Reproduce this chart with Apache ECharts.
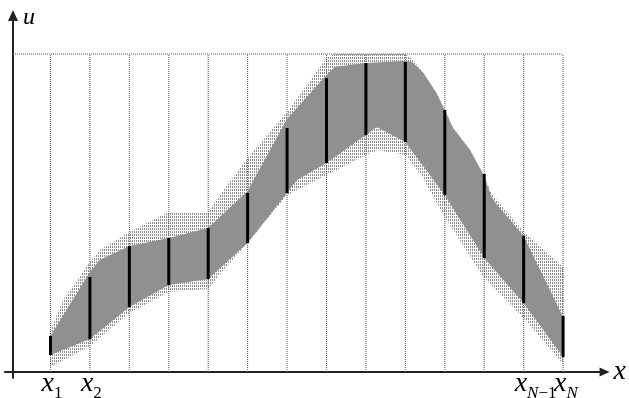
<!DOCTYPE html>
<html><head><meta charset="utf-8">
<script src="https://cdn.jsdelivr.net/npm/echarts@6/dist/echarts.min.js"></script>
<style>html,body{margin:0;padding:0;background:#fff}#c{width:629px;height:398px}</style>
</head><body><div id="c"></div>
<script>
// ---- data (x = node index, u = value) ----
const nodes = [1,2,3,4,5,6,7,8,9,10,11,12,13,14];
const segLow  = [1.7,3.3,6.5,8.7,9.3,12.9,17.9,20.9,23.7,23.0,17.7,11.4,6.9,1.5];
const segHigh = [3.6,9.5,12.6,13.4,14.4,17.9,24.4,29.4,30.9,31.0,26.2,19.8,13.6,5.6];

const grayUpperX = [1,2,2.25,3,4,5,6,7,8,8.21,9,10,10.17,10.46,10.79,11,11.21,11.64,11.97,12.19,12.27,13,14];
const grayUpperU = [3.6,10.0,11.2,12.6,13.4,14.4,18.1,25.3,29.7,30.5,30.9,31.1,31.0,29.9,27.9,26.2,24.4,22.2,19.8,17.5,17.0,13.6,5.5];
const grayLowerX = [1,2,3,4,5,6,7,7.25,8,9,9.27,10,11,12,13,14];
const grayLowerU = [1.7,3.3,6.5,8.7,9.3,12.9,17.9,19.2,20.9,23.7,24.5,23.0,17.7,11.4,6.9,1.5];

const outerUpperX = [1,1.32,2,2.25,3,4,5,5.2,6,7,8,8.2,10,10.2,10.46,10.79,11,11.21,11.64,11.97,12.19,13,14];
const outerUpperU = [4.2,7.2,11.0,12.2,14.0,16.0,16.0,17.2,21.4,26.0,31.4,31.8,31.8,31.2,29.9,27.9,26.2,24.4,22.2,19.8,17.8,14.0,10.5];
const outerLowerX = [1,2,3,4,5,5.3,6,7,8,9,9.3,10,10.4,11,12,13,14];
const outerLowerU = [0.5,2.6,5.9,8.0,8.3,9.8,12.9,17.7,19.7,21.7,22.2,21.7,19.7,15.5,9.4,5.4,0.8];

const uTop = 31.8;          // dotted upper bound line
const uAxisAtX = 0.05;      // where the u-axis crosses
const tickLabelX = [1, 2, 13, 14];
const tickLabelSub = ['{s|1}', '{s|2}', '{si|N}{s|\u22121}', '{si|N}'];

// ---- stipple pattern ----
const pat = document.createElement('canvas');
pat.width = 2; pat.height = 3;
const pctx = pat.getContext('2d');
pctx.fillStyle = '#8c8c8c';
pctx.fillRect(0, 0, 1, 2);

function polyPoints(api, ux, uu, lx, lu) {
  const pts = [];
  for (let i = 0; i < ux.length; i++) pts.push(api.coord([ux[i], uu[i]]));
  for (let i = lx.length - 1; i >= 0; i--) pts.push(api.coord([lx[i], lu[i]]));
  return pts;
}

const serif = '"Liberation Serif", "Times New Roman", serif';
const chart = echarts.init(document.getElementById('c'), null, {renderer: 'canvas'});
chart.setOption({
  animation: false,
  backgroundColor: '#fff',
  grid: {left: 5, right: 24, top: 15.5, bottom: 20, containLabel: false},
  xAxis: {
    type: 'value', min: -0.1531, max: 15.0522,
    axisLine: {show: true, onZero: true, symbol: ['none', 'triangle'], symbolSize: [9, 10],
      lineStyle: {color: '#222', width: 2}},
    axisTick: {show: false}, axisLabel: {show: false}, splitLine: {show: false},
    name: 'x', nameLocation: 'end', nameGap: 9,
    nameTextStyle: {fontFamily: serif, fontStyle: 'italic', fontSize: 28, color: '#000', align: 'left', verticalAlign: 'middle'}
  },
  yAxis: {
    type: 'value', min: -0.6, max: 35.65, offset: -8,
    axisLine: {show: true, onZero: false, symbol: ['none', 'triangle'], symbolSize: [10, 11],
      lineStyle: {color: '#222', width: 2}},
    axisTick: {show: false}, axisLabel: {show: false}, splitLine: {show: false},
    name: 'u', nameLocation: 'end', nameGap: -2,
    nameTextStyle: {fontFamily: serif, fontStyle: 'italic', fontSize: 24, color: '#000', align: 'left', verticalAlign: 'middle', padding: [0, 0, 0, 10]}
  },
  series: [
    { type: 'custom', name: 'outer', silent: true, z: 1,
      data: [[outerUpperX[0], outerUpperU[0]]],
      renderItem: function (params, api) {
        return {type: 'polygon', shape: {points: polyPoints(api, outerUpperX, outerUpperU, outerLowerX, outerLowerU)},
          style: {fill: {type: 'pattern', image: pat, repeat: 'repeat'}, stroke: null}};
      }
    },
    { type: 'custom', name: 'grid', silent: true, z: 2,
      data: nodes.map(function (x) { return [x, uTop]; }),
      renderItem: function (params, api) {
        const x = api.value(0);
        const a = api.coord([x, 0]), b = api.coord([x, api.value(1)]);
        const children = [{type: 'line', shape: {x1: a[0], y1: a[1], x2: b[0], y2: b[1]},
          style: {stroke: '#555', lineWidth: 1, lineDash: [1, 1]}}];
        if (params.dataIndex === nodes.length - 1) {
          const c = api.coord([uAxisAtX, uTop]);
          children.push({type: 'line', shape: {x1: c[0], y1: c[1], x2: b[0], y2: b[1]},
            style: {stroke: '#555', lineWidth: 1, lineDash: [1, 1]}});
        }
        return {type: 'group', children: children};
      }
    },
    { type: 'custom', name: 'band', silent: true, z: 3,
      data: [[grayUpperX[0], grayUpperU[0]]],
      renderItem: function (params, api) {
        return {type: 'polygon', shape: {points: polyPoints(api, grayUpperX, grayUpperU, grayLowerX, grayLowerU)},
          style: {fill: '#909090', stroke: null}};
      }
    },
    { type: 'custom', name: 'segments', silent: true, z: 4,
      data: nodes.map(function (x, i) { return [x, segLow[i], segHigh[i]]; }),
      encode: {x: 0, y: [1, 2]},
      renderItem: function (params, api) {
        const a = api.coord([api.value(0), api.value(1)]);
        const b = api.coord([api.value(0), api.value(2)]);
        return {type: 'line', shape: {x1: a[0], y1: a[1], x2: b[0], y2: b[1]},
          style: {stroke: '#000', lineWidth: 3}};
      }
    },
    { type: 'custom', name: 'labels', silent: true, z: 5,
      data: tickLabelX.map(function (x, i) { return [x, 0, i]; }),
      renderItem: function (params, api) {
        const p = api.coord([api.value(0), 0]);
        return {type: 'text', x: p[0] - 9, y: p[1] + 30,
          style: {text: '{x|x}' + tickLabelSub[api.value(2)], align: 'left', verticalAlign: 'bottom',
            rich: {
              x: {font: "italic 28px 'Liberation Serif'", fill: '#000', verticalAlign: 'bottom', padding: [0, 0, 4, 0]},
              s: {font: "17px 'Liberation Serif'", fill: '#000', verticalAlign: 'bottom'},
              si: {font: "italic 17px 'Liberation Serif'", fill: '#000', verticalAlign: 'bottom'}
            }}};
      }
    }
  ]
});
</script>
</body></html>
